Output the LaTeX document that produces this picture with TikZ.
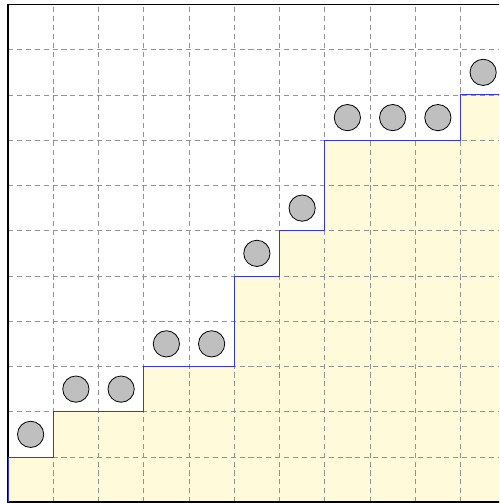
\documentclass[tikz,border=0pt]{standalone}
\begin{document}
\begin{tikzpicture}[x=1cm,y=1cm,
  gridline/.style={gray!85, line width=0.5pt, dash pattern=on 3.2pt off 2.4pt},
  stair/.style={blue!80!white, line width=0.6pt},
  ball/.style={circle, draw=black, line width=0.5pt, fill=black!25, minimum size=0.58cm, inner sep=0pt},
  frame/.style={black, line width=1.1pt}]
\definecolor{lemon}{RGB}{255,250,218}
\useasboundingbox (-0.177,-0.017) rectangle (10.851,11.099);
\clip (-0.177,-0.017) rectangle (10.851,11.099);
\fill[lemon] (0,0) -- (0,1) -- (1,1) -- (1,2) -- (3,2) -- (3,3) -- (5,3) -- (5,5) -- (6,5) -- (6,6) -- (7,6) -- (7,8) -- (10,8) -- (10,9) -- (11.5,9) -- (11.5,0) -- cycle;
\foreach \i in {1,...,10} {
  \draw[gridline] (\i,0) -- (\i,11);
  \draw[gridline] (0,\i) -- (11.5,\i);
}
\draw[frame] (0,0) rectangle (11,11);
\draw[stair] (0,0) -- (0,1) -- (1,1) -- (1,2) -- (3,2) -- (3,3) -- (5,3) -- (5,5) -- (6,5) -- (6,6) -- (7,6) -- (7,8) -- (10,8) -- (10,9) -- (11.5,9);
\node[ball] (b1) at (0.5,1.5) {};
\node[ball] (b2) at (1.5,2.5) {};
\node[ball] (b3) at (2.5,2.5) {};
\node[ball] (b4) at (3.5,3.5) {};
\node[ball] (b5) at (4.5,3.5) {};
\node[ball] (b6) at (5.5,5.5) {};
\node[ball] (b7) at (6.5,6.5) {};
\node[ball] (b8) at (7.5,8.5) {};
\node[ball] (b9) at (8.5,8.5) {};
\node[ball] (b10) at (9.5,8.5) {};
\node[ball] (b11) at (10.5,9.5) {};
\end{tikzpicture}
\end{document}
